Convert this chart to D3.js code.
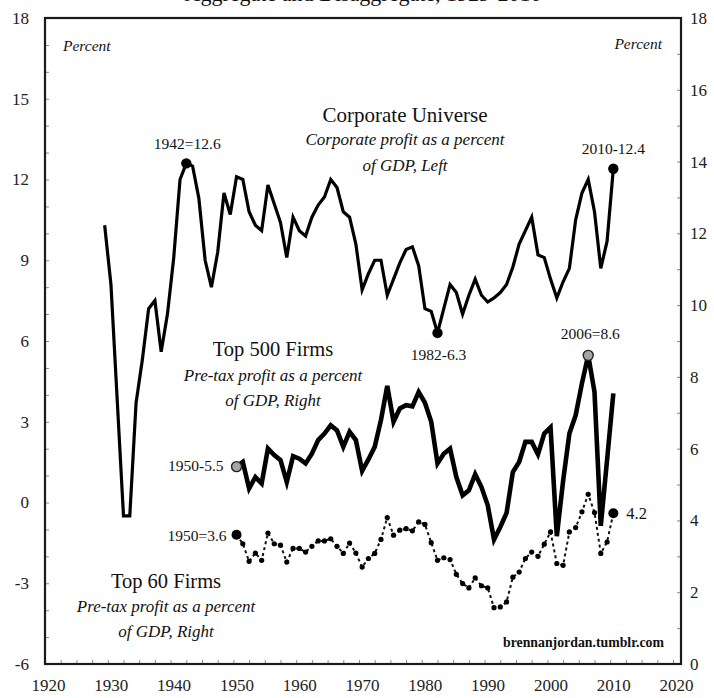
<!DOCTYPE html>
<html>
<head>
<meta charset="utf-8">
<script src="https://cdn.jsdelivr.net/npm/d3@7"></script>
<style>
  html, body { margin: 0; padding: 0; background: #fff; }
  svg { display: block; font-family: "Liberation Serif", "DejaVu Serif", serif; }
  .axis path.domain { display: none; }
</style>
</head>
<body>
<svg id="chart" width="714" height="698"></svg>
<script>
// ---------------- DATA ----------------
const corpStart = 1929;
const corporateProfit = [
  10.3, 8.1, 3.8, -0.5, -0.5, 3.7, 5.3, 7.2, 7.5, 5.6,          // 1929-1938
  7.0, 9.1, 12.0, 12.6, 12.5, 11.3, 9.0, 8.0, 9.3, 11.5,        // 1939-1948
  10.7, 12.1, 12.0, 10.8, 10.3, 10.1, 11.8, 11.1, 10.4, 9.1,    // 1949-1958
  10.6, 10.1, 9.9, 10.6, 11.05, 11.35, 12.0, 11.7, 10.8, 10.6,  // 1959-1968
  9.6, 7.9, 8.5, 9.0, 9.0, 7.7, 8.3, 8.9, 9.4, 9.5,             // 1969-1978
  8.8, 7.2, 7.1, 6.3, 7.2, 8.1, 7.8, 7.0, 7.7, 8.3,             // 1979-1988
  7.7, 7.45, 7.6, 7.8, 8.1, 8.75, 9.6, 10.1, 10.6, 9.2,         // 1989-1998
  9.1, 8.3, 7.6, 8.2, 8.7, 10.5, 11.5, 12.0, 10.8, 8.7,         // 1999-2008
  9.7, 12.4                                                     // 2009-2010
];

const firmsStart = 1950;
const top500Profit = [
  5.5, 5.63, 4.89, 5.21, 5.03, 6.0, 5.82, 5.68, 5.07, 5.79,     // 1950-1959
  5.72, 5.59, 5.86, 6.24, 6.42, 6.65, 6.51, 6.05, 6.47, 6.24,   // 1960-1969
  5.38, 5.7, 6.05, 6.8, 7.75, 6.75, 7.12, 7.21, 7.18, 7.58,     // 1970-1979
  7.28, 6.75, 5.59, 5.86, 6.0, 5.21, 4.7, 4.84, 5.29, 4.93,     // 1980-1989
  4.42, 3.47, 3.82, 4.21, 5.35, 5.63, 6.19, 6.19, 5.84, 6.42,   // 1990-1999
  6.59, 3.56, 5.1, 6.42, 6.93, 7.82, 8.6, 7.58, 3.85, 5.68,     // 2000-2009
  7.54                                                          // 2010
];

const top60Profit = [
  3.6, 3.35, 2.86, 3.09, 2.89, 3.65, 3.35, 3.31, 2.84, 3.22,    // 1950-1959
  3.22, 3.12, 3.28, 3.43, 3.43, 3.49, 3.28, 3.08, 3.37, 3.09,   // 1960-1969
  2.70, 2.94, 3.08, 3.47, 4.08, 3.59, 3.73, 3.77, 3.71, 3.96,   // 1970-1979
  3.89, 3.38, 2.89, 2.96, 2.91, 2.50, 2.24, 2.12, 2.40, 2.18,   // 1980-1989
  2.12, 1.57, 1.59, 1.73, 2.42, 2.56, 2.94, 3.12, 3.0, 3.34,    // 1990-1999
  3.68, 2.80, 2.75, 3.68, 3.80, 4.24, 4.73, 4.22, 3.08, 3.40,   // 2000-2009
  4.2                                                           // 2010
];

const xTickLabels = [1920, 1930, 1940, 1950, 1960, 1970, 1980, 1990, 2000, 2010, 2020];
const leftTickLabels = [-6, -3, 0, 3, 6, 9, 12, 15, 18];
const rightTickLabels = [0, 2, 4, 6, 8, 10, 12, 14, 16, 18];

const titleText = "Aggregate and Disaggregate, 1929-2010";

// highlighted points: [series, year, label]
const corpHighlights = [[1942, "1942=12.6"], [1982, "1982-6.3"], [2010, "2010-12.4"]];

// ---------------- SCALES ----------------
const svg = d3.select("#chart");
const frame = { left: 45, right: 681, top: 18, bottom: 664 };

const x = d3.scaleLinear().domain([1920, 2020]).range([45, 673]);
const yL = d3.scaleLinear().domain([-6, 18]).range([664, 18]);
const yR = d3.scaleLinear().domain([0, 18]).range([664, 18]);

const px = yr => x(yr + 0.5); // annual data plotted mid-year

const corpData = corporateProfit.map((v, i) => ({ year: corpStart + i, v }));
const t500Data = top500Profit.map((v, i) => ({ year: firmsStart + i, v }));
const t60Data = top60Profit.map((v, i) => ({ year: firmsStart + i, v }));

// ---------------- TITLE ----------------
svg.append("text")
  .attr("x", 363).attr("y", 1)
  .attr("text-anchor", "middle")
  .attr("font-size", 22)
  .attr("fill", "#111")
  .text(titleText);

// ---------------- AXES ----------------
const tickColor = "#8a8a8a";

// left minor ticks (inward)
svg.append("g").attr("class", "axis")
  .attr("transform", `translate(${frame.left},0)`)
  .call(d3.axisLeft(yL).tickValues(d3.range(-6, 18.01, 1)).tickSize(-4).tickFormat(""))
  .selectAll("line").attr("stroke", tickColor);

// right minor ticks (inward)
svg.append("g").attr("class", "axis")
  .attr("transform", `translate(${frame.right},0)`)
  .call(d3.axisRight(yR).tickValues(d3.range(0, 18.01, 1)).tickSize(-4).tickFormat(""))
  .selectAll("line").attr("stroke", tickColor);

// bottom minor ticks (inward)
svg.append("g").attr("class", "axis")
  .attr("transform", `translate(0,${frame.bottom})`)
  .call(d3.axisBottom(x).tickValues(d3.range(1920, 2021, 2.5)).tickSize(-4).tickFormat(""))
  .selectAll("line").attr("stroke", tickColor);

// left labels
const gL = svg.append("g").attr("class", "axis")
  .attr("transform", `translate(29,0)`)
  .call(d3.axisLeft(yL).tickValues(leftTickLabels).tickSize(0).tickPadding(0).tickFormat(d3.format("d")));
gL.selectAll("text").attr("font-size", 17).attr("fill", "#222")
  .attr("font-family", "Liberation Serif").attr("text-anchor", "end")
  .text(d => d < 0 ? "-" + Math.abs(d) : d);

// right labels
const gR = svg.append("g").attr("class", "axis")
  .attr("transform", `translate(690,0)`)
  .call(d3.axisRight(yR).tickValues(rightTickLabels).tickSize(0).tickPadding(0).tickFormat(d3.format("d")));
gR.selectAll("text").attr("font-size", 17).attr("fill", "#222")
  .attr("font-family", "Liberation Serif");

// bottom labels
const gB = svg.append("g").attr("class", "axis")
  .attr("transform", `translate(3,${frame.bottom + 15})`)
  .call(d3.axisBottom(x).tickValues(xTickLabels).tickSize(0).tickPadding(0).tickFormat(d3.format("d")));
gB.selectAll("text").attr("font-size", 17).attr("fill", "#222")
  .attr("font-family", "Liberation Serif");

// ---------------- FRAME ----------------
svg.append("rect")
  .attr("x", frame.left).attr("y", frame.top)
  .attr("width", frame.right - frame.left).attr("height", frame.bottom - frame.top)
  .attr("fill", "none").attr("stroke", "#1a1a1a").attr("stroke-width", 2.2);

// ---------------- LINES ----------------
const lineL = d3.line().x(d => px(d.year)).y(d => yL(d.v)).curve(d3.curveLinear);
const lineR = d3.line().x(d => px(d.year)).y(d => yR(d.v)).curve(d3.curveLinear);

svg.append("path").datum(corpData)
  .attr("d", lineL).attr("fill", "none")
  .attr("stroke", "#000").attr("stroke-width", 3.2)
  .attr("stroke-linejoin", "miter");

svg.append("path").datum(t500Data)
  .attr("d", lineR).attr("fill", "none")
  .attr("stroke", "#000").attr("stroke-width", 4.6)
  .attr("stroke-linejoin", "miter");

svg.append("path").datum(t60Data)
  .attr("d", lineR).attr("fill", "none")
  .attr("stroke", "#111").attr("stroke-width", 2)
  .attr("stroke-dasharray", "3,3");

svg.append("g").selectAll("circle").data(t60Data).join("circle")
  .attr("cx", d => px(d.year)).attr("cy", d => yR(d.v))
  .attr("r", 2.6).attr("fill", "#000");

// ---------------- HIGHLIGHT DOTS ----------------
const corpByYear = new Map(corpData.map(d => [d.year, d.v]));
const t500ByYear = new Map(t500Data.map(d => [d.year, d.v]));
const t60ByYear = new Map(t60Data.map(d => [d.year, d.v]));

corpHighlights.forEach(([yr]) => {
  svg.append("circle").attr("cx", px(yr)).attr("cy", yL(corpByYear.get(yr)))
    .attr("r", 5.2).attr("fill", "#000");
});
[1950, 2006].forEach(yr => {
  svg.append("circle").attr("cx", px(yr)).attr("cy", yR(t500ByYear.get(yr)))
    .attr("r", 5).attr("fill", "#a6a6a6").attr("stroke", "#222").attr("stroke-width", 1.4);
});
[1950, 2010].forEach(yr => {
  svg.append("circle").attr("cx", px(yr)).attr("cy", yR(t60ByYear.get(yr)))
    .attr("r", 5).attr("fill", "#000");
});

// ---------------- ANNOTATIONS ----------------
function txt(xp, yp, s, size, opts = {}) {
  return svg.append("text")
    .attr("x", xp).attr("y", yp)
    .attr("text-anchor", opts.anchor || "middle")
    .attr("font-size", size)
    .attr("font-style", opts.italic ? "italic" : "normal")
    .attr("font-weight", opts.bold ? "bold" : "normal")
    .attr("fill", opts.fill || "#111")
    .text(s);
}

// point labels
txt(px(1942) + 1, yL(12.6) - 14, "1942=12.6", 15.5);
txt(px(2010), yL(12.4) - 15, "2010-12.4", 15.5);
txt(px(1982) + 1, yL(6.3) + 27, "1982-6.3", 15.5);
txt(px(2006) + 2, yR(8.6) - 16, "2006=8.6", 15.5);
txt(px(1950) - 13, yR(5.5) + 4.5, "1950-5.5", 15.5, { anchor: "end" });
txt(px(1950) - 10, yR(3.6) + 6, "1950=3.6", 15.5, { anchor: "end" });
txt(px(2010) + 13, yR(4.2) + 6, "4.2", 16.5, { anchor: "start" });

// unit labels
txt(63, 51, "Percent", 15.5, { anchor: "start", italic: true });
txt(662, 49, "Percent", 15.5, { anchor: "end", italic: true });

// series descriptions
txt(405, 122, "Corporate Universe", 21);
txt(405, 145, "Corporate profit  as a percent", 17, { italic: true });
txt(405, 171, "of GDP, Left", 17, { italic: true });

txt(273, 356, "Top 500 Firms", 20.5);
txt(273, 381, "Pre-tax profit  as a percent", 17, { italic: true });
txt(273, 406, "of GDP, Right", 17, { italic: true });

txt(166, 588, "Top 60 Firms", 20.5);
txt(166, 612, "Pre-tax profit  as a percent", 17, { italic: true });
txt(166, 637, "of GDP, Right", 17, { italic: true });

txt(664, 647, "brennanjordan.tumblr.com", 13.8, { anchor: "end", bold: true });
</script>
</body>
</html>
